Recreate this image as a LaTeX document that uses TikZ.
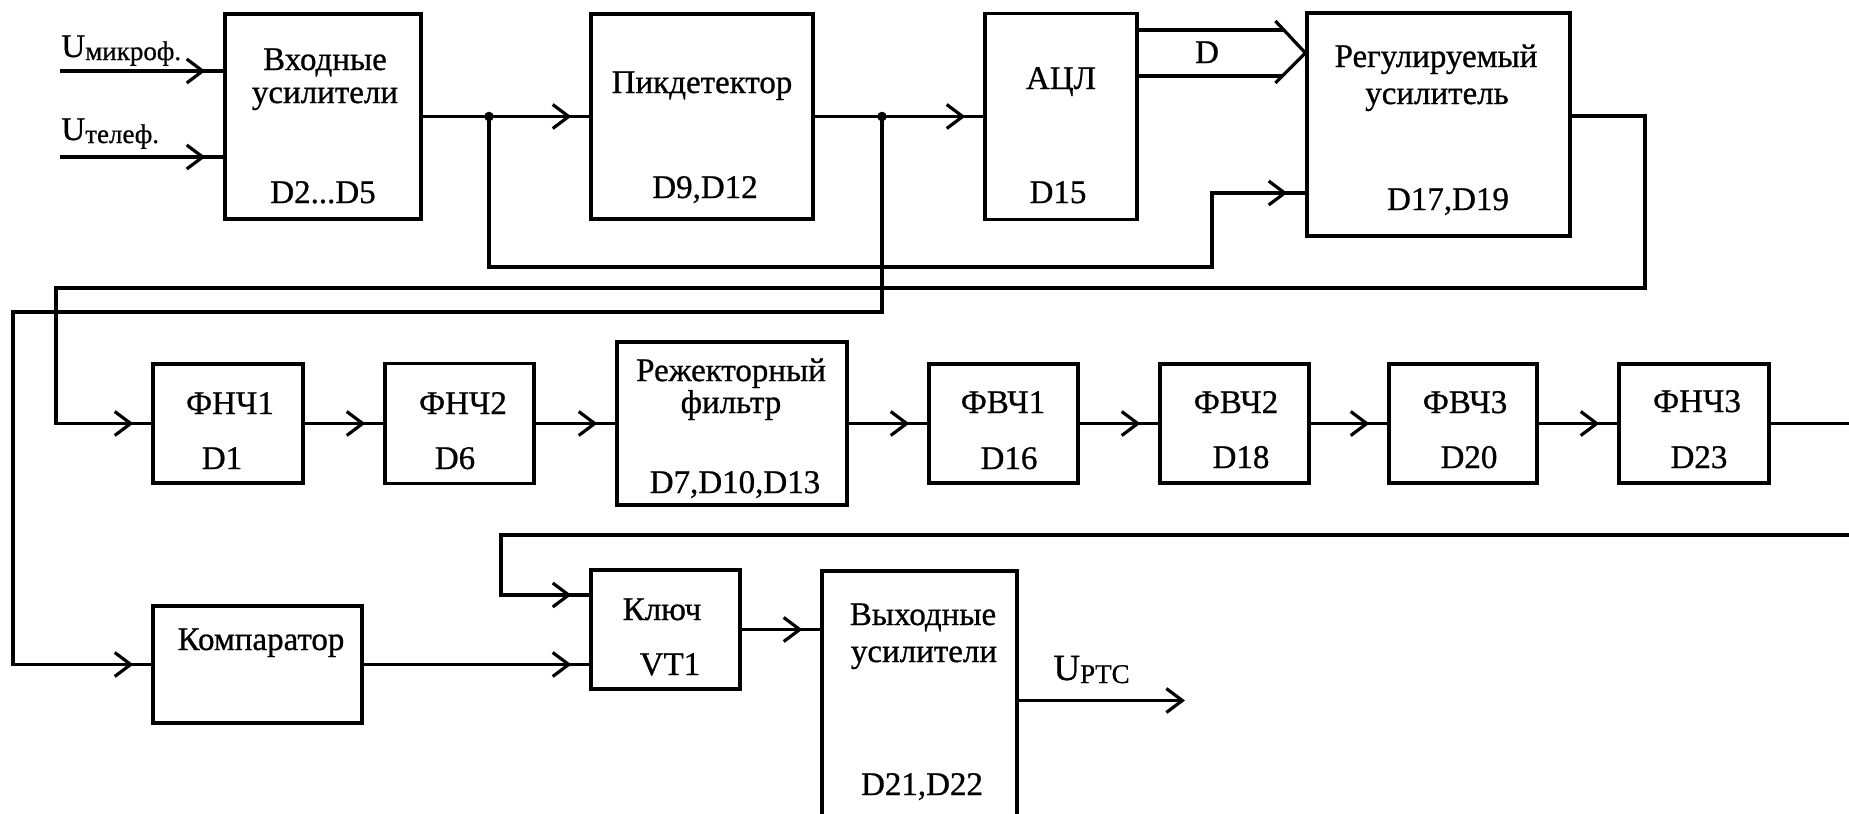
\documentclass[tikz,border=0pt]{standalone}
\usepackage{fontspec}
\setmainfont{Liberation Serif}[FakeBold=0.8]
\usetikzlibrary{calc,arrows.meta,decorations.markings}

\newcommand{\usub}[1]{\raisebox{-1.5pt}{\fontsize{13.5}{15}\selectfont #1}}

\tikzset{
  blk/.style={draw, line width=1.6pt, inner sep=0pt},
  txt/.style={inner sep=0pt, anchor=base, font=\fontsize{16.5}{19}\selectfont},
  wire/.style={line width=1.6pt},
  sig/.style={wire, postaction={decorate}, decoration={markings,
      mark=at position -9pt with {\arrow{Straight Barb[length=8pt,width=12pt,line width=1.6pt]}}}},
  sigend/.style={wire, -{Straight Barb[length=8pt,width=12pt,line width=1.6pt]}},
}

\begin{document}
\begin{tikzpicture}[x=0.5pt, y=-0.5pt]
        \useasboundingbox (0,0) rectangle (1849,814);

        % top row
        \node[blk, minimum width=98pt, minimum height=102.5pt](vh) at (323,116.5) {};
        \node[blk, minimum width=111pt, minimum height=102.5pt](pik) at (702,116.5) {};
        \node[blk, minimum width=76pt, minimum height=103pt](adc) at (1061,116.5) {};
        \node[blk, minimum width=131.5pt, minimum height=111.5pt](reg) at (1438.5,124.5) {};

        \node[txt](vhA) at (325,70) {Входные};
        \node[txt](vhB) at (325,103) {усилители};
        \node[txt](vhC) at (323,203) {D2...D5};
        \node[txt](pikA) at (702,93) {Пикдетектор};
        \node[txt](pikB) at (705,198) {D9,D12};
        \node[txt](adcA) at (1061,89) {АЦЛ};
        \node[txt](adcB) at (1058,203) {D15};
        \node[txt](regA) at (1436,67) {Регулируемый};
        \node[txt](regB) at (1437,104) {усилитель};
        \node[txt](regC) at (1448,210) {D17,D19};

        % filter row
        \node[blk, minimum width=75pt, minimum height=59.5pt](f1) at (228,423.5) {};
        \node[blk, minimum width=74.5pt, minimum height=60pt](f2) at (459.5,423.5) {};
        \node[blk, minimum width=115pt, minimum height=81.5pt](rej) at (732,423.5) {};
        \node[blk, minimum width=74.5pt, minimum height=59.5pt](f3) at (1003.5,423.5) {};
        \node[blk, minimum width=74.5pt, minimum height=59.5pt](f4) at (1234.5,423.5) {};
        \node[blk, minimum width=74pt, minimum height=59.5pt](f5) at (1463,423.5) {};
        \node[blk, minimum width=75pt, minimum height=59.5pt](f6) at (1694,423.5) {};

        \node[txt](f1A) at (230,414) {ФНЧ1};
        \node[txt](f1B) at (222,469) {D1};
        \node[txt](f2A) at (463,414) {ФНЧ2};
        \node[txt](f2B) at (455,469) {D6};
        \node[txt, align=center, font=\fontsize{16.5}{14}\selectfont](rejA) at (731,413) {Режекторный\\фильтр};
        \node[txt](rejC) at (735,493) {D7,D10,D13};
        \node[txt](f3A) at (1003,413) {ФВЧ1};
        \node[txt](f3B) at (1009,469) {D16};
        \node[txt](f4A) at (1236,413) {ФВЧ2};
        \node[txt](f4B) at (1241,468) {D18};
        \node[txt](f5A) at (1465,413) {ФВЧ3};
        \node[txt](f5B) at (1469,468) {D20};
        \node[txt](f6A) at (1697,412) {ФНЧ3};
        \node[txt](f6B) at (1699,468) {D23};

        % bottom row
        \node[blk, minimum width=104.5pt, minimum height=58.5pt](comp) at (257.5,664.5) {};
        \node[blk, minimum width=74.5pt, minimum height=59.5pt](key) at (665.5,629.5) {};
        \node[blk, minimum width=97.5pt, minimum height=129.5pt](out) at (919.5,700.5) {};

        \node[txt](compA) at (261,650) {Компаратор};
        \node[txt](keyA) at (662,620) {Ключ};
        \node[txt](keyB) at (670,675) {VT1};
        \node[txt](outA) at (923,625) {Выходные};
        \node[txt](outB) at (924,662) {усилители};
        \node[txt](outC) at (922,795) {D21,D22};

        % inputs and output
        \coordinate (umic) at (60,71);
        \coordinate (utel) at (60,157);
        \coordinate (uptc) at (1185,700.5);
        \node[txt, anchor=base west](lmic) at (61,57) {U\usub{микроф.}};
        \node[txt, anchor=base west](ltel) at (61,140) {U\usub{телеф.}};
        \node[txt, anchor=base west](lptc) at (1053,680) {{\fontsize{18.5}{20}\selectfont U}\usub{PTC}};

        \draw[sig] (umic) -- (umic -| vh.west);
        \draw[sig] (utel) -- (utel -| vh.west);
        \draw[sigend] (out.east |- uptc) -- (uptc);

        % forward path
        \coordinate (j1) at (489,116.5);
        \coordinate (j2) at (882,116.5);
        \draw[sig] (vh.east) -- (pik.west);
        \draw[sig] (pik.east) -- (adc.west);
        \fill (j1) circle[radius=2.4pt];
        \fill (j2) circle[radius=2.4pt];

        % data bus D
        \coordinate (bt) at ($(reg.west)+(0,-71.5)$);
        \draw[wire, line join=miter] ($(bt)+(-30,-32)$) -- (bt) -- ($(bt)+(-30,30)$);
        \draw[wire] ($(adc.east)+(0,-86.5)$) -- ($(bt)+(-21.5,-23)$);
        \draw[wire] ($(adc.east)+(0,-40.5)$) -- ($(bt)+(-22,23)$);
        \node[txt](dbus) at (1207,63) {D};

        % feedback lines
        \coordinate (b1) at (1212,267);
        \draw[sig] (j1) |- (b1) |- ($(reg.west)+(0,68.5)$);
        \coordinate (b2) at (13,312);
        \draw[sig] (j2) |- (b2) |- (comp.west);
        \coordinate (b3) at (1645,288);
        \coordinate (b4) at (56,288);
        \draw[sig] ($(reg.east)+(0,-8.5)$) -| (b3) -- (b4) |- (f1.west);

        % filter chain
        \draw[sig] (f1.east) -- (f2.west);
        \draw[sig] (f2.east) -- (rej.west);
        \draw[sig] (rej.east) -- (f3.west);
        \draw[sig] (f3.east) -- (f4.west);
        \draw[sig] (f4.east) -- (f5.west);
        \draw[sig] (f5.east) -- (f6.west);

        \coordinate (b5) at (1870,423.5);
        \coordinate (b6) at (1870,535);
        \coordinate (b7) at (501,535);
        \draw[sig] (f6.east) -- (b5) -- (b6) -- (b7) |- ($(key.west)+(0,-34.5)$);

        \draw[sig] (comp.east) -- (comp.east -| key.west);
        \draw[sig] (key.east) -- (key.east -| out.west);
\end{tikzpicture}
\end{document}
